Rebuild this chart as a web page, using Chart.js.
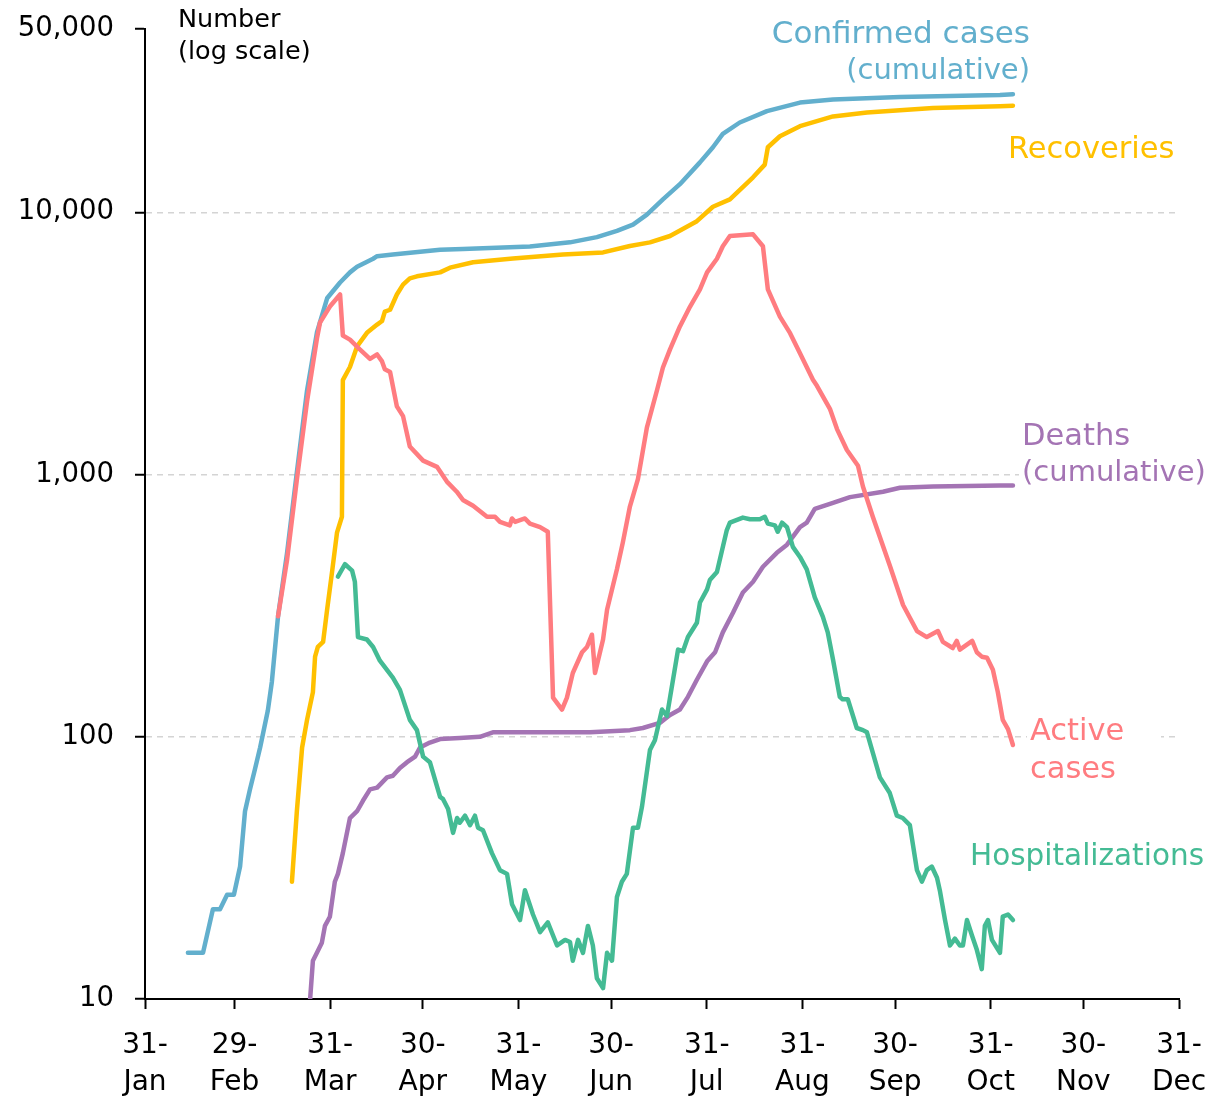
<!DOCTYPE html>
<html>
<head>
<meta charset="utf-8">
<script src="https://cdn.jsdelivr.net/npm/chart.js@4.4.0/dist/chart.umd.min.js"></script>
<style>
  html, body { margin: 0; padding: 0; background: #fff; }
</style>
</head>
<body>
<canvas id="chart" width="1214" height="1098"></canvas>
<script>
// x axis: days counted from 31 Jan
var monthEnds = [0, 29, 60, 90, 121, 151, 182, 213, 243, 274, 304, 335];
var dayLabels = ['31-', '29-', '31-', '30-', '31-', '30-', '31-', '31-', '30-', '31-', '30-', '31-'];
var monthLabels = ['Jan', 'Feb', 'Mar', 'Apr', 'May', 'Jun', 'Jul', 'Aug', 'Sep', 'Oct', 'Nov', 'Dec'];
var yTicks = [10, 100, 1000, 10000, 50000];

// Confirmed cases (cumulative)
var confDays = [13.9, 18.8, 22, 24.3, 26.6, 28.8, 30.8, 32.4, 34, 35.6, 37.3, 39.8, 41.1, 43.1, 46, 49.2, 52.5, 55.7, 59, 63.2,
  66.4, 68.7, 73.9, 75.2, 80.3, 95.6, 103, 124.7, 137.7, 146.4, 152.9, 158.1, 162.6, 167.8, 173.3, 179.8, 184, 187.2, 192.7, 201.5,
  212.2, 222.9, 244.6, 277, 281.2];
var confVals = [15, 15, 22, 22, 25, 25, 32, 52, 63, 75, 91, 126, 162, 288, 500, 1020, 2090, 3480, 4700, 5400,
  5900, 6200, 6650, 6800, 6900, 7200, 7250, 7400, 7680, 8040, 8500, 8980, 9800, 11200, 12800, 15500, 17700, 19900, 22000, 24300,
  26200, 26900, 27500, 28000, 28200];

// Recoveries
var recDays = [47.6, 49.2, 50.9, 52.5, 54.4, 55.1, 56, 57.7, 59, 60.6, 62.2, 63.8, 64.1, 66.4, 68.7, 71.9, 75.2, 76.8, 77.7, 79.4,
  81.6, 83.6, 85.8, 88.1, 95.6, 98.8, 106.3, 119.2, 135.4, 148.4, 157.1, 163.6, 170.1, 178.8, 184, 189.5, 197, 200.8, 201.8, 205.7,
  212.2, 222.9, 233.9, 255.3, 277, 281.2];
var recVals = [28, 52, 91, 116, 148, 202, 220, 230, 305, 425, 600, 690, 2290, 2570, 3080, 3470, 3730, 3850, 4180, 4250,
  4860, 5300, 5600, 5700, 5900, 6150, 6450, 6660, 6900, 7030, 7440, 7680, 8120, 9250, 10500, 11200, 13600, 15200, 17700, 19500,
  21300, 23200, 24000, 25000, 25400, 25500];

// Active cases
var actDays = [43.1, 46, 49.2, 52.5, 55.7, 56.7, 59.9, 63.2, 64.1, 66.4, 69.6, 72.9, 75.2, 76.8, 77.7, 79.4, 81.6, 83.6, 85.8, 90.1,
  94.6, 97.8, 101, 103, 106.3, 110.8, 113.4, 115, 118.2, 118.9, 119.9, 123.1, 124.7, 128, 130.5, 132.2, 135.1, 136.7, 138.6, 141.6,
  143.2, 144.8, 145.8, 148.4, 149.7, 152.9, 154.8, 157.1, 159.7, 162.6, 165.9, 167.8, 170.1, 173.3, 176.6, 179.8, 182.1, 185.3, 187.2, 189.5,
  197, 200.2, 201.8, 205.7, 209, 212.2, 216.4, 217.7, 221.9, 224.2, 227.4, 231, 232.6, 235.8, 241.3, 245.6, 250.1, 253.3, 256.9, 258.5,
  261.7, 263, 264, 268, 269.5, 271.1, 272.8, 274.7, 276.3, 277.9, 279.6, 281.2];
var actVals = [288, 470, 955, 1900, 3300, 3800, 4370, 4860, 3390, 3270, 3000, 2760, 2870, 2700, 2520, 2460, 1820, 1670, 1280, 1130,
  1070, 940, 860, 800, 760, 690, 690, 660, 640, 680, 660, 680, 650, 630, 605, 141, 127, 141, 175, 210,
  220, 245, 175, 235, 305, 435, 550, 755, 960, 1510, 2100, 2560, 3000, 3670, 4370, 5080, 5900, 6650, 7420, 8120,
  8240, 7420, 5080, 4000, 3460, 2900, 2300, 2180, 1780, 1490, 1240, 1080, 900, 690, 450, 318, 253, 240, 253, 230,
  218, 232, 215, 232, 210, 202, 200, 180, 148, 116, 107, 93];

// Deaths (cumulative)
var dthDays = [53.5, 54.4, 55.7, 57.3, 58.3, 59.9, 61.5, 62.5, 64.1, 66.4, 68.7, 70.6, 72.9, 75.2, 78.4, 80.3, 82.6, 84.9, 87.5, 89.1,
  92.3, 95.6, 102, 108.5, 112.7, 144.2, 157.1, 161.3, 166.8, 170.1, 173.3, 175.9, 178.8, 182.1, 184.7, 187.2, 190.5, 193.7, 197, 200.2,
  204.7, 208, 212.2, 214.4, 217, 222.9, 228.4, 239.1, 244.6, 255.3, 277, 281.2];
var dthVals = [10, 14, 15, 16.4, 19, 20.6, 28, 30, 36, 49, 52, 57, 63, 64, 70, 71, 76, 80, 84, 91,
  95, 98, 99, 100, 104, 104, 106, 108, 113, 121, 127, 142, 165, 194, 210, 250, 297, 355, 390, 445,
  503, 540, 630, 655, 740, 780, 820, 860, 890, 900, 908, 908];

// Hospitalizations
var hospDays = [62.5, 64.8, 67.1, 68, 69, 71.9, 73.9, 76.1, 80.3, 82.6, 85.8, 88.1, 90.1, 92.3, 95.6, 96.5, 98.2, 99.8, 101.1, 102,
  103.7, 105.3, 106.9, 107.9, 109.5, 112.4, 115, 117.3, 118.9, 121.5, 123.1, 125.7, 128, 130.5, 133.5, 136.1, 137.7, 138.6, 140.3, 141.9,
  143.5, 145.1, 146.4, 148.4, 149.7, 151.3, 152.9, 154.5, 156.1, 158.1, 159.7, 161, 163.6, 165.2, 167.5, 169.1, 172.7, 174.3, 175.9, 178.8,
  179.8, 182.1, 183, 185.3, 188.5, 189.5, 193.7, 196, 199.2, 200.8, 201.8, 204.1, 205, 206.4, 208, 209.9, 212.2, 214.4, 217, 219.6,
  221.2, 222.9, 225.1, 226, 227.7, 230.6, 232.6, 233.9, 238.1, 241.3, 243.6, 245.5, 247.8, 250.1, 251.7, 253.3, 254.9, 256.6, 257.5, 259.2,
  260.8, 262.4, 264, 265, 266.3, 267.9, 269.5, 271.1, 272.1, 273.1, 274.4, 277, 277.9, 279.6, 281.2];
var hospVals = [408, 455, 430, 390, 240, 235, 220, 195, 168, 151, 116, 106, 84, 80, 59, 58, 53, 43, 49, 47,
  50, 46, 50, 45, 44, 36, 31, 30, 23, 20, 26, 21, 18, 19.6, 16, 16.8, 16.5, 14, 16.8, 15,
  19, 16, 12, 11, 15, 14, 24.5, 28, 30, 45, 45, 54, 89, 97, 127, 120, 215, 212, 240, 272,
  325, 365, 396, 425, 614, 655, 685, 675, 675, 690, 650, 640, 605, 655, 630, 530, 485, 435, 340, 287,
  250, 197, 142, 139, 139, 108, 106, 104, 70, 61, 50, 49, 46, 31, 28, 31, 32, 29, 26, 20,
  16, 17, 16, 16, 20, 17.5, 15.4, 13, 19, 20, 16.8, 15, 20.6, 21, 20];

var BLUE = '#62afcd', YELLOW = '#ffc000', PINK = '#ff7c80', PURPLE = '#a474b4', GREEN = '#44bb94';
var FONT = '"DejaVu Sans", sans-serif';

function toPoints(days, vals) {
  return days.map(function(d, i) { return { x: d, y: vals[i] }; });
}

function line(label, days, vals, color, order) {
  return {
    label: label,
    data: toPoints(days, vals),
    borderColor: color,
    borderWidth: 4.5,
    pointRadius: 0,
    tension: 0,
    borderJoinStyle: 'round',
    borderCapStyle: 'round',
    fill: false,
    order: order
  };
}

// text labels next to the lines
var textLabels = [
  { lines: ['Number', '(log scale)'], sizes: [25.5, 25.5], x: 178, y: 20, gap: 32, align: 'left', color: '#000', bg: false },
  { lines: ['Confirmed cases', '(cumulative)'], sizes: [31, 29], x: 1030, y: 35, gap: 36, align: 'right', color: BLUE, bg: true },
  { lines: ['Recoveries'], sizes: [30.5], x: 1008, y: 150, gap: 36, align: 'left', color: YELLOW, bg: true },
  { lines: ['Deaths', '(cumulative)'], sizes: [30.5, 29], x: 1022, y: 437, gap: 36, align: 'left', color: PURPLE, bg: true },
  { lines: ['Active', 'cases'], sizes: [30.5, 30.5], x: 1030, y: 732, gap: 38, align: 'left', color: PINK, bg: true, bgWidth: 128 },
  { lines: ['Hospitalizations'], sizes: [29.5], x: 970, y: 857, gap: 36, align: 'left', color: GREEN, bg: true }
];

var labelPlugin = {
  id: 'lineLabels',
  afterDraw: function(chart) {
    var ctx = chart.ctx;
    ctx.save();
    textLabels.forEach(function(t) {
      ctx.textBaseline = 'middle';
      ctx.textAlign = t.align;
      t.lines.forEach(function(s, i) {
        ctx.font = t.sizes[i] + 'px ' + FONT;
        var y = t.y + i * t.gap;
        if (t.bg) {
          var w = t.bgWidth || ctx.measureText(s).width;
          var x0 = t.align === 'right' ? t.x - w : t.x;
          ctx.fillStyle = '#fff';
          ctx.fillRect(x0 - 3, y - t.gap / 2, w + 6, t.gap);
        }
        ctx.fillStyle = t.color;
        ctx.fillText(s, t.x, y);
      });
    });
    ctx.restore();
  }
};

var gridValues = [100, 1000, 10000];

function noScalePadding(scale) {
  scale.paddingTop = 0;
  scale.paddingBottom = 0;
  scale.paddingLeft = 0;
  scale.paddingRight = 0;
}

new Chart(document.getElementById('chart').getContext('2d'), {
  type: 'line',
  data: {
    datasets: [
      line('Hospitalizations', hospDays, hospVals, GREEN, 1),
      line('Active cases', actDays, actVals, PINK, 2),
      line('Deaths (cumulative)', dthDays, dthVals, PURPLE, 3),
      line('Recoveries', recDays, recVals, YELLOW, 4),
      line('Confirmed cases (cumulative)', confDays, confVals, BLUE, 5)
    ]
  },
  options: {
    responsive: false,
    animation: false,
    layout: { padding: { top: 29, right: 35, left: 0, bottom: 0 } },
    plugins: {
      legend: { display: false },
      tooltip: { enabled: false }
    },
    scales: {
      x: {
        type: 'linear',
        min: 0,
        max: 335,
        afterBuildTicks: function(scale) {
          scale.ticks = monthEnds.map(function(v) { return { value: v }; });
        },
        afterFit: function(scale) {
          scale.height = 99;
          noScalePadding(scale);
        },
        grid: {
          drawOnChartArea: false,
          color: '#000',
          tickLength: 10,
          tickWidth: 2
        },
        border: { color: '#000', width: 2 },
        ticks: {
          autoSkip: false,
          maxRotation: 0,
          padding: 18,
          color: '#000',
          font: { family: FONT, size: 28, lineHeight: 1.32 },
          callback: function(value, index) {
            return [dayLabels[index], monthLabels[index]];
          }
        }
      },
      y: {
        type: 'logarithmic',
        min: 10,
        max: 50000,
        afterBuildTicks: function(scale) {
          scale.ticks = yTicks.map(function(v) { return { value: v }; });
        },
        afterFit: function(scale) {
          scale.width = 145;
          noScalePadding(scale);
        },
        grid: {
          color: function(c) {
            return c.tick && gridValues.indexOf(c.tick.value) >= 0 ? '#d4d4d4' : 'rgba(0,0,0,0)';
          },
          lineWidth: 1.5,
          tickColor: '#000',
          tickWidth: 2,
          tickLength: 10
        },
        border: { color: '#000', width: 2, dash: [6, 5] },
        ticks: {
          padding: 21,
          color: '#000',
          font: { family: FONT, size: 27.5 },
          callback: function(value) {
            return Number(value).toLocaleString('en-US');
          }
        }
      }
    }
  },
  plugins: [labelPlugin]
});
</script>
</body>
</html>
